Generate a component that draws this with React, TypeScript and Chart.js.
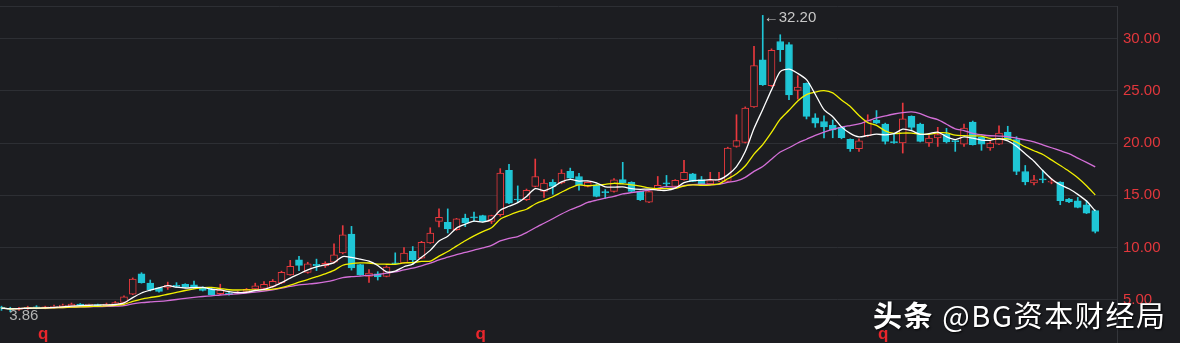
import React, { useEffect, useRef } from 'react';
import { Chart, registerables } from 'chart.js';

Chart.register(...registerables);

// ---- data (weekly candles) ----
const opens = [
  4.3, 4.2, 4.1, 4.2, 4.3, 4.25, 4.3, 4.35, 4.4, 4.6, 4.5, 4.5, 4.45, 4.55, 4.75, 5.55, 7.5, 6.6, 6.15, 6.2,
  6.35, 6.5, 6.45, 6.2, 6.05, 5.6, 5.65, 5.65, 5.8, 6.05, 6.1, 6.3, 6.62, 7.4, 8.84, 7.63, 8.4, 8.25, 8.6, 9.48,
  11.3, 8.37, 7.25, 7.5, 7.25, 8.55, 8.53, 9.64, 9.0, 10.44, 12.5, 12.41, 11.71, 12.83, 12.9, 13.05, 12.5, 13.14, 17.38, 14.6,
  14.58, 15.85, 15.38, 16.24, 16.18, 17.3, 16.8, 15.85, 16.0, 15.3, 15.37, 16.5, 16.24, 15.37, 14.35, 15.54, 16.15, 15.86, 16.5, 17.06,
  16.5, 16.1, 16.38, 16.33, 19.68, 20.06, 23.44, 27.96, 25.48, 29.7, 29.4, 25.03, 25.7, 22.4, 22.06, 21.7, 21.5, 20.35, 19.45, 20.7,
  22.2, 21.82, 20.08, 20.0, 22.54, 21.82, 20.0, 20.48, 20.86, 20.17, 19.9, 22.0, 20.54, 19.52, 19.9, 21.05, 20.32, 17.28, 16.18, 16.52,
  16.25, 16.27, 14.65, 14.48, 14.1, 13.53,
];
const closes = [
  4.2, 4.1, 4.2, 4.3, 4.25, 4.3, 4.35, 4.5, 4.6, 4.5, 4.5, 4.45, 4.6, 4.75, 5.3, 7.0, 6.65, 5.95, 5.8, 6.4,
  6.3, 6.25, 6.15, 5.9, 5.5, 5.95, 5.5, 5.7, 6.0, 6.35, 6.5, 6.77, 7.63, 8.2, 8.3, 8.46, 8.25, 8.5, 9.3, 11.23,
  8.05, 7.4, 7.57, 7.2, 8.15, 8.45, 9.48, 8.84, 10.5, 11.4, 12.9, 11.78, 12.74, 12.35, 12.84, 12.5, 13.05, 17.13, 14.26, 14.55,
  15.47, 16.8, 16.18, 15.86, 17.13, 16.65, 16.0, 16.24, 14.9, 15.25, 16.49, 16.18, 15.37, 14.58, 15.35, 15.95, 16.1, 16.43, 17.2, 16.33,
  16.1, 16.4, 16.42, 19.52, 20.22, 23.35, 27.4, 25.57, 28.85, 28.92, 24.6, 25.35, 22.54, 21.9, 21.53, 21.25, 20.5, 19.45, 20.2, 22.2,
  21.9, 20.15, 20.04, 22.3, 21.5, 20.15, 20.48, 20.8, 20.1, 20.13, 21.43, 19.84, 19.9, 20.0, 20.96, 20.32, 17.28, 16.27, 16.49, 16.48,
  16.3, 14.48, 14.36, 13.84, 13.3, 11.55,
];
const highs = [
  4.4, 4.3, 4.3, 4.4, 4.45, 4.4, 4.5, 4.6, 4.7, 4.65, 4.6, 4.6, 4.7, 4.85, 5.4, 7.1, 7.6, 6.9, 6.2, 6.7,
  6.65, 6.55, 6.8, 6.25, 6.1, 6.5, 5.75, 5.8, 6.1, 6.6, 6.75, 6.95, 7.75, 8.78, 9.16, 8.6, 8.9, 8.65, 10.37, 12.1,
  12.03, 8.4, 7.9, 7.7, 8.25, 9.5, 10.0, 10.1, 10.6, 11.9, 13.7, 13.7, 12.8, 13.2, 13.4, 13.1, 13.1, 17.55, 17.95, 15.9,
  15.6, 18.47, 16.5, 16.5, 17.45, 17.6, 17.1, 16.3, 16.1, 15.55, 16.6, 18.15, 16.3, 15.4, 15.4, 16.8, 16.9, 16.5, 18.34, 17.1,
  16.8, 17.2, 17.2, 19.6, 22.7, 23.45, 29.24, 32.2, 29.0, 30.35, 29.6, 26.43, 25.75, 22.8, 22.6, 22.2, 21.6, 20.4, 20.4, 22.7,
  23.1, 21.9, 20.9, 23.82, 22.6, 21.9, 20.7, 21.5, 21.4, 20.2, 21.8, 22.1, 20.6, 20.15, 21.65, 21.6, 20.6, 17.85, 16.9, 17.4,
  16.6, 16.3, 14.7, 14.8, 14.5, 13.6,
];
const lows = [
  4.0, 3.86, 4.0, 4.1, 4.15, 4.15, 4.2, 4.3, 4.35, 4.4, 4.4, 4.35, 4.4, 4.5, 4.7, 5.5, 6.6, 5.85, 5.75, 6.0,
  6.2, 6.2, 6.1, 5.85, 5.45, 5.5, 5.45, 5.6, 5.75, 6.0, 6.05, 6.2, 6.55, 7.35, 7.8, 7.55, 7.8, 8.1, 8.5, 9.4,
  7.85, 7.35, 6.67, 6.9, 7.2, 8.4, 8.5, 8.4, 8.95, 10.4, 11.97, 11.4, 11.65, 12.0, 12.5, 12.45, 12.3, 13.0, 14.2, 14.3,
  14.5, 15.8, 14.8, 15.1, 16.1, 16.6, 15.5, 15.8, 14.85, 14.7, 15.3, 16.1, 15.3, 14.5, 14.3, 15.5, 15.8, 15.8, 16.45, 16.3,
  16.0, 16.05, 16.3, 16.3, 19.6, 20.0, 23.4, 25.5, 25.4, 27.8, 24.14, 24.2, 22.3, 21.5, 20.48, 20.5, 20.4, 19.2, 19.2, 20.6,
  21.85, 19.9, 19.95, 19.04, 21.2, 20.1, 19.67, 19.67, 20.0, 19.2, 19.67, 19.8, 19.3, 19.3, 19.85, 20.3, 16.97, 16.0, 16.0, 16.2,
  16.1, 14.1, 14.3, 13.8, 13.25, 11.4,
];
const maPeriods = [5, 10, 20];
const maColors = ['#ffffff', '#f2f000', '#d46fd8'];
const yTickValues = [5, 10, 15, 20, 25, 30];
const highIdx = 87;
const highLabel = '\u2190' + '32.20';
const lowIdx = 1;
const lowLabel = '3.86';
const markerIdx = [5, 55, 101];
const markerText = 'q';
const watermarkBold = '头条';
const watermarkRest = '@BG资本财经局';

// ---- styles ----
const BG = '#1c1d21';
const GRID = '#2d2f34';
const RED = '#e8383d';
const CYAN = '#1fc6d6';
const AXIS_RED = '#e2373c';

function movingAverage(vals: number[], n: number): number[] {
  return vals.map((_, i) => {
    const s = vals.slice(Math.max(0, i - n + 1), i + 1);
    return s.reduce((a, b) => a + b, 0) / s.length;
  });
}

export default function App() {
  const ref = useRef<HTMLCanvasElement | null>(null);

  useEffect(() => {
    document.body.style.margin = '0';
    document.body.style.background = BG;
    const canvas = ref.current;
    if (!canvas) return;

    const up = closes.map((c, i) => c >= opens[i]);

    const overlay = {
      id: 'overlay',
      beforeDraw(chart: any) {
        const { ctx, width, height } = chart;
        ctx.save();
        ctx.fillStyle = BG;
        ctx.fillRect(0, 0, width, height);
        ctx.restore();
      },
      afterDraw(chart: any) {
        const { ctx, chartArea } = chart;
        const x = chart.scales.x;
        const y = chart.scales.y;
        ctx.save();
        ctx.strokeStyle = GRID;
        ctx.lineWidth = 1;
        ctx.beginPath();
        ctx.moveTo(0, Math.round(chartArea.top) + 0.5);
        ctx.lineTo(chartArea.right, Math.round(chartArea.top) + 0.5);
        ctx.stroke();

        ctx.font = '15px "Liberation Sans", Arial, sans-serif';
        ctx.fillStyle = '#c8c8c8';
        ctx.textBaseline = 'middle';
        ctx.textAlign = 'left';
        ctx.fillText(highLabel, x.getPixelForValue(highIdx) + 1, y.getPixelForValue(highs[highIdx]) + 2);
        ctx.fillStyle = '#b4b4b4';
        ctx.fillText(lowLabel, x.getPixelForValue(lowIdx) - 1, y.getPixelForValue(lows[lowIdx]) + 4);

        ctx.font = 'bold 17px "Liberation Sans", Arial, sans-serif';
        ctx.fillStyle = '#e8262c';
        ctx.textAlign = 'center';
        ctx.textBaseline = 'alphabetic';
        markerIdx.forEach((i) => {
          ctx.fillText(markerText, x.getPixelForValue(i) - 2, 339);
        });
        ctx.restore();
      },
    };

    const maDatasets = maPeriods.map((p, k) => ({
      type: 'line' as const,
      label: 'MA' + p,
      data: movingAverage(closes, p).map((v, i) => ({ x: i, y: v })),
      borderColor: maColors[k],
      borderWidth: 1.3,
      pointRadius: 0,
      tension: 0.25,
      order: 1,
    }));

    const chart = new Chart(canvas, {
      type: 'bar',
      data: {
        datasets: [
          {
            type: 'bar',
            label: 'wick',
            data: lows.map((l, i) => ({ x: i, y: [l, highs[i]] })),
            backgroundColor: up.map((u) => (u ? RED : CYAN)),
            borderWidth: 0,
            barThickness: 1,
            grouped: false,
            order: 3,
          } as any,
          {
            type: 'bar',
            label: 'body',
            data: opens.map((o, i) => ({ x: i, y: [o, closes[i]] })),
            backgroundColor: up.map((u) => (u ? BG : CYAN)),
            borderColor: up.map((u) => (u ? RED : CYAN)),
            borderWidth: 1,
            borderSkipped: false,
            minBarLength: 1,
            barThickness: 7,
            grouped: false,
            order: 2,
          } as any,
          ...maDatasets,
        ],
      },
      options: {
        animation: false,
        responsive: false,
        devicePixelRatio: 1,
        layout: { padding: { top: 6, left: 0, right: 0, bottom: 0 } },
        plugins: { legend: { display: false }, tooltip: { enabled: false } },
        scales: {
          x: {
            type: 'linear',
            min: -0.171,
            max: 127.486,
            offset: false,
            bounds: 'ticks',
            display: false,
            grid: { offset: false },
          },
          y: {
            type: 'linear',
            position: 'right',
            min: 0.88,
            max: 33.098,
            afterBuildTicks: (scale: any) => {
              scale.ticks = yTickValues.map((v) => ({ value: v }));
            },
            afterFit: (scale: any) => {
              scale.width = 63;
              scale.paddingTop = 0;
              scale.paddingBottom = 0;
            },
            grid: { color: GRID, drawTicks: false, lineWidth: 1 },
            border: { display: true, color: '#34363b', width: 1 },
            ticks: {
              padding: 6,
              color: AXIS_RED,
              font: { size: 15, family: '"Liberation Sans", Arial, sans-serif' },
              callback: (v: any) => Number(v).toFixed(2),
            },
          },
        },
      } as any,
      plugins: [overlay],
    });

    return () => chart.destroy();
  }, []);

  return (
    <div style={{ position: 'relative', width: 1180, height: 343, background: BG, overflow: 'hidden' }}>
      <canvas ref={ref} width={1180} height={343} style={{ display: 'block' }} />
      <div
        style={{
          position: 'absolute',
          left: 873,
          top: 295,
          fontFamily: '"Noto Sans CJK SC", "Noto Sans", sans-serif',
          fontSize: 29,
          letterSpacing: '1.6px',
          lineHeight: '38px',
          color: '#ffffff',
          whiteSpace: 'nowrap',
          textShadow: '1px 1px 2px rgba(0,0,0,0.9)',
        }}
      >
        <span style={{ fontWeight: 700 }}>{watermarkBold}</span>
        <span> {watermarkRest}</span>
      </div>
    </div>
  );
}
